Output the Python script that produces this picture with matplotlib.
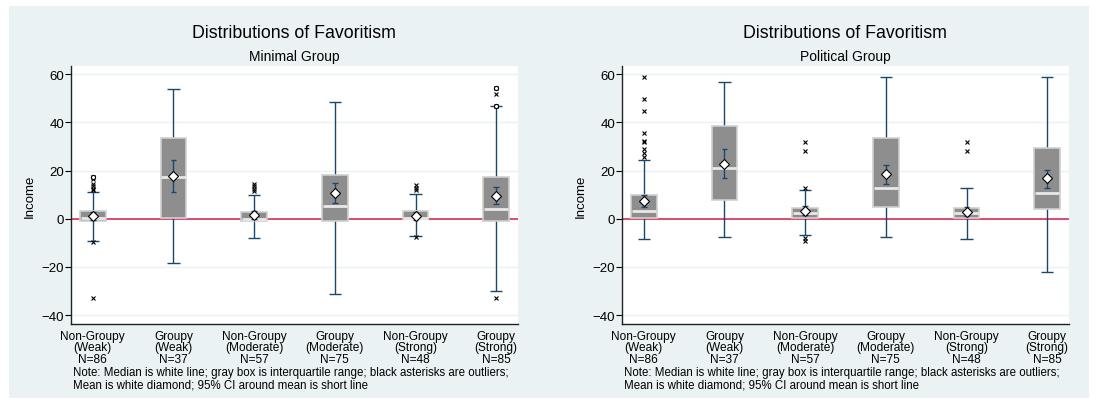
import numpy as np
import matplotlib.pyplot as plt
from matplotlib.patches import Rectangle

plt.rcParams['font.family'] = ['Liberation Sans', 'DejaVu Sans']

labels = ['Non-Groupy\n(Weak)\nN=86', 'Groupy\n(Weak)\nN=37',
          'Non-Groupy\n(Moderate)\nN=57', 'Groupy\n(Moderate)\nN=75',
          'Non-Groupy\n(Strong)\nN=48', 'Groupy\n(Strong)\nN=85']
subtitles = ['Minimal Group', 'Political Group']

# Minimal group
min_q1 = [-1.0, 0.4, -1.1, -1.0, 0.0, -1.0]
min_med = [0.3, 17.5, 0.0, 5.1, 0.4, 3.9]
min_q3 = [3.4, 33.4, 3.0, 18.2, 3.4, 17.3]
min_wlo = [-9.2, -18.4, -7.9, -31.3, -7.3, -30.2]
min_whi = [11.3, 53.7, 9.9, 48.3, 10.4, 46.6]
min_mean = [1.2, 17.9, 1.4, 10.8, 1.3, 9.3]
min_cilo = [-0.5, 11.1, -0.3, 6.5, -0.4, 6.0]
min_cihi = [3.0, 24.5, 3.1, 14.9, 3.0, 13.1]
min_out = [[17.5, 16.5, 14.5, 13.5, 12.5, 12.0, -9.5, -33.0],
           [],
           [14.5, 13.5, 12.5, 11.5],
           [],
           [13.8, 12.8, 12.0, -7.6],
           [54.1, 51.8, 47.0, -32.8]]
min_circ = [[17.5], [], [], [], [], [54.1, 47.0]]

# Political group
pol_q1 = [0.3, 7.7, 0.4, 4.8, 0.4, 3.9]
pol_med = [3.2, 21.0, 2.5, 12.6, 2.5, 10.7]
pol_q3 = [9.9, 38.4, 4.6, 33.7, 4.6, 29.3]
pol_wlo = [-8.6, -7.7, -6.6, -7.7, -8.5, -22.1]
pol_whi = [24.4, 56.6, 11.9, 58.9, 12.8, 58.9]
pol_mean = [7.2, 22.9, 3.4, 18.6, 3.0, 16.8]
pol_cilo = [4.8, 16.8, 1.6, 14.5, 1.2, 12.8]
pol_cihi = [9.9, 29.0, 5.2, 22.5, 4.8, 20.4]
pol_out = [[58.7, 49.7, 44.6, 35.6, 32.4, 31.7, 29.0, 27.2, 25.5],
           [],
           [32.0, 28.3, 12.7, -8.0, -9.2],
           [],
           [32.0, 28.3],
           []]
pol_circ = [[], [], [], [], [], []]

panels = [
    (min_q1, min_med, min_q3, min_wlo, min_whi, min_mean, min_cilo, min_cihi, min_out, min_circ),
    (pol_q1, pol_med, pol_q3, pol_wlo, pol_whi, pol_mean, pol_cilo, pol_cihi, pol_out, pol_circ),
]

W, H = 1096, 402
fig = plt.figure(figsize=(W / 100, H / 100), dpi=100, facecolor='white')
fig.patches.append(Rectangle((9 / W, 1 - 399 / H), 1080 / W, 392 / H,
                             transform=fig.transFigure, facecolor='#eaf2f3',
                             edgecolor='none', zorder=-10))

navy = '#1a476f'
axes_left = [71, 622]
for p, (left, data) in enumerate(zip(axes_left, panels)):
    q1, med, q3, wlo, whi, mean, cilo, cihi, outs, circs = data
    ax = fig.add_axes([left / W, 1 - 325 / H, 447 / W, 258 / H])
    ax.set_facecolor('white')
    x = np.arange(1, 7)
    bw = 0.32

    ax.axhline(0, color='#d6305a', lw=1.2, zorder=1)
    # whiskers and caps
    ax.vlines(x, wlo, whi, color=navy, lw=1.0, zorder=2)
    ax.hlines(wlo, x - 0.075, x + 0.075, color=navy, lw=1.0, zorder=2)
    ax.hlines(whi, x - 0.075, x + 0.075, color=navy, lw=1.0, zorder=2)
    # boxes
    ax.bar(x, np.array(q3) - np.array(q1), bottom=q1, width=bw,
           color='#8e8e8e', edgecolor='#d0d0d0', linewidth=1.2, zorder=3)
    ax.hlines(med, x - bw / 2 + 0.01, x + bw / 2 - 0.01, color='#e8e8e8', lw=2.0, zorder=4)
    # CI around mean
    ax.vlines(x, cilo, cihi, color=navy, lw=1.0, zorder=5)
    ax.hlines(cilo, x - 0.035, x + 0.035, color=navy, lw=1.0, zorder=5)
    ax.hlines(cihi, x - 0.035, x + 0.035, color=navy, lw=1.0, zorder=5)
    ax.plot(x, mean, 'D', ms=5.3, mfc='white', mec='black', mew=0.8, zorder=6)
    # outliers
    for i in range(6):
        if outs[i]:
            ax.plot([x[i]] * len(outs[i]), outs[i], 'x', ms=3.2, color='black',
                    mew=0.8, zorder=6)
        if circs[i]:
            ax.plot([x[i]] * len(circs[i]), circs[i], 'o', ms=3.0, mfc='white',
                    mec='black', mew=0.8, zorder=7)

    ax.set_xlim(0.73, 6.27)
    ax.set_ylim(-43.7, 63.4)
    ax.set_yticks([-40, -20, 0, 20, 40, 60])
    ax.yaxis.grid(True, color='#eaf2f3', lw=1.0)
    ax.set_axisbelow(True)
    ax.set_xticks(x)
    ax.set_xticklabels(labels, fontsize=8.6, linespacing=0.98)
    ax.tick_params(axis='x', length=0, pad=4)
    ax.tick_params(axis='y', length=4, width=0.8, labelsize=9.5, pad=1)
    for s in ['top', 'right']:
        ax.spines[s].set_visible(False)
    for s in ['left', 'bottom']:
        ax.spines[s].set_color('#222222')
        ax.spines[s].set_linewidth(1.0)
    ax.set_ylabel('Income', fontsize=9.5, labelpad=4)

    cx = (left + 223) / W
    fig.text(cx, 1 - 33 / H, 'Distributions of Favoritism', ha='center', va='center',
             fontsize=12.8)
    fig.text(cx, 1 - 57 / H, subtitles[p], ha='center', va='center', fontsize=10)
    fig.text((left + 2) / W, 1 - 367.5 / H,
             'Note: Median is white line; gray box is interquartile range; black asterisks are outliers;\n'
             'Mean is white diamond; 95% CI around mean is short line',
             ha='left', va='top', fontsize=8.3, linespacing=1.0)

fig.savefig('out.png', dpi=100, facecolor='white')
